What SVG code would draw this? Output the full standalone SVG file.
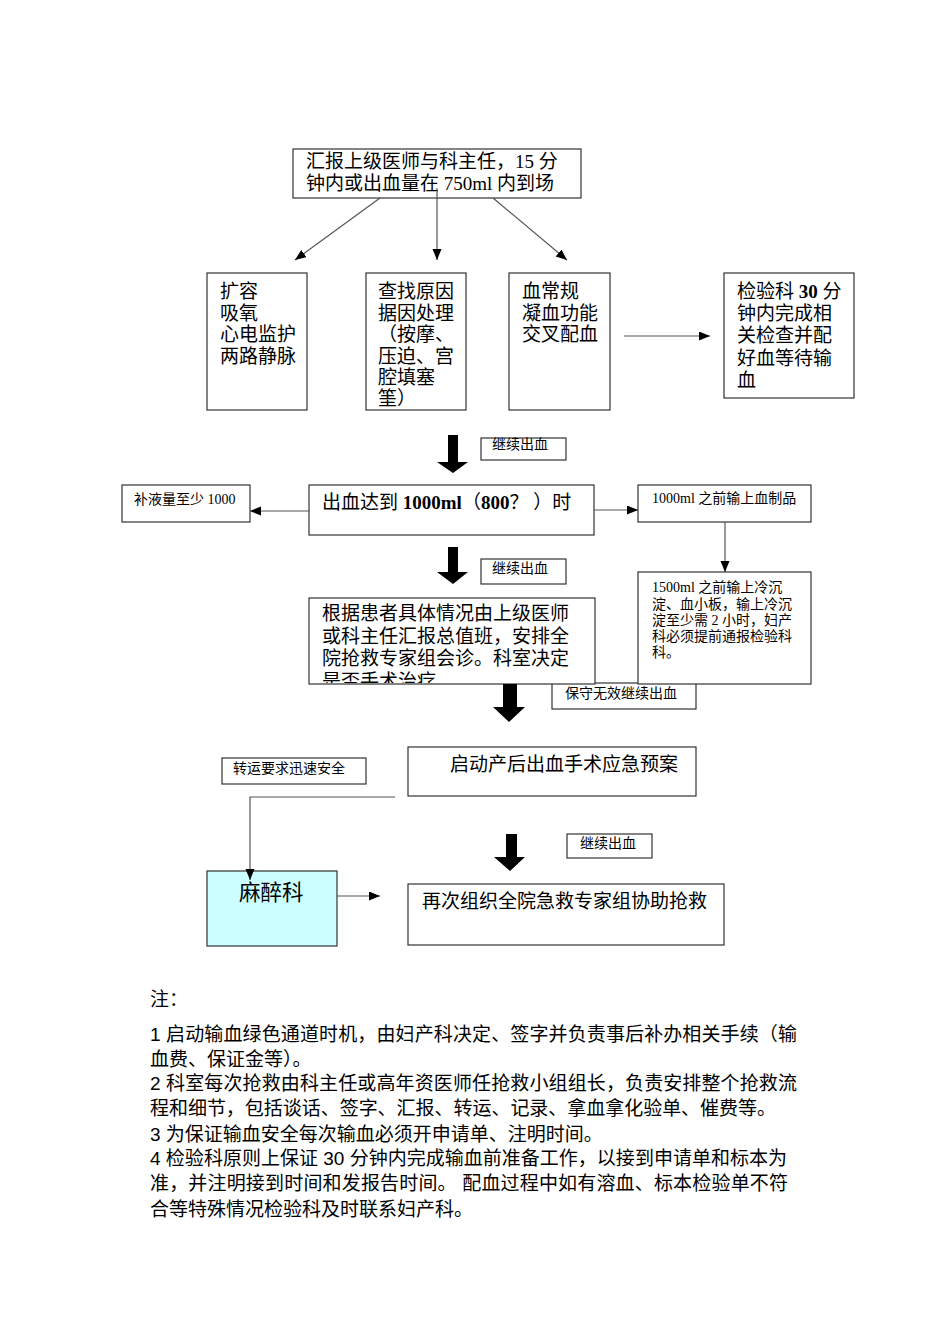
<svg xmlns="http://www.w3.org/2000/svg" width="950" height="1344" viewBox="0 0 950 1344">
<style>
.box{fill:#fff;stroke:#333;stroke-width:1.2}
.cyan{fill:#ccffff;stroke:#333;stroke-width:1.2}
.t{font-family:"Liberation Serif","Noto Sans CJK SC",serif;fill:#000}
.m{font-size:19px}
.l{font-size:19px}
.s{font-size:14px}
.b{font-weight:bold}
.n{font-family:"Liberation Sans","Noto Sans CJK SC",sans-serif;font-size:19px;fill:#000}
.ln{fill:none;stroke:#555;stroke-width:1.2}
.thick{fill:#000}
</style>
<defs>
<marker id="ah" markerUnits="userSpaceOnUse" markerWidth="12" markerHeight="10" refX="11" refY="4.5" orient="auto">
<path d="M0,0 L11,4.5 L0,9 z" fill="#000"/>
</marker>
<clipPath id="clipGen"><rect x="309" y="598" width="286" height="85"/></clipPath>
</defs>
<rect width="950" height="1344" fill="#fff"/>

<g id="n-report">
<rect class="box" x="293" y="149" width="288" height="49"/>
<text class="t m" x="306" y="168">汇报上级医师与科主任，15 分</text>
<text class="t m" x="306" y="190">钟内或出血量在 750ml 内到场</text>
</g>

<g id="n-expand">
<rect class="box" x="207" y="273" width="100" height="137"/>
<text class="t m" x="220" y="298">扩容</text>
<text class="t m" x="220" y="319.5">吸氧</text>
<text class="t m" x="220" y="341">心电监护</text>
<text class="t m" x="220" y="362.5">两路静脉</text>
</g>

<g id="n-cause">
<rect class="box" x="366" y="273" width="100" height="137"/>
<text class="t m" x="378" y="298">查找原因</text>
<text class="t m" x="378" y="319.5">据因处理</text>
<text class="t m" x="378" y="341">（按摩、</text>
<text class="t m" x="378" y="362.5">压迫、宫</text>
<text class="t m" x="378" y="384">腔填塞</text>
<text class="t m" x="378" y="405">筀）</text>
</g>

<g id="n-blood">
<rect class="box" x="509" y="273" width="101" height="137"/>
<text class="t m" x="522" y="298">血常规</text>
<text class="t m" x="522" y="319.5">凝血功能</text>
<text class="t m" x="522" y="341">交叉配血</text>
</g>

<g id="n-lab">
<rect class="box" x="724" y="273" width="130" height="125"/>
<text class="t m" x="737" y="297.5">检验科 <tspan class="b">30</tspan> 分</text>
<text class="t m" x="737" y="320">钟内完成相</text>
<text class="t m" x="737" y="342">关检查并配</text>
<text class="t m" x="737" y="364.5">好血等待输</text>
<text class="t m" x="737" y="387">血</text>
</g>

<g id="n-cont1">
<rect class="box" x="481" y="438" width="85" height="22"/>
<text class="t s" x="492" y="449">继续出血</text>
</g>

<g id="n-1000">
<rect class="box" x="309" y="485" width="285" height="50"/>
<text class="t m" x="322" y="509">出血达到 <tspan class="b">1000ml</tspan>（<tspan class="b">800</tspan>？ ）时</text>
</g>

<g id="n-fluid">
<rect class="box" x="122" y="485" width="128" height="37"/>
<text class="t s" x="134" y="504">补液量至少 1000</text>
</g>

<g id="n-products">
<rect class="box" x="638" y="485" width="173" height="37"/>
<text class="t s" x="652" y="503">1000ml 之前输上血制品</text>
</g>

<g id="n-cont2">
<rect class="box" x="481" y="559" width="85" height="25"/>
<text class="t s" x="492" y="573">继续出血</text>
</g>

<g id="n-conservative">
<rect class="box" x="552" y="683" width="144" height="26"/>
<text class="t s" x="565" y="698">保守无效继续出血</text>
</g>

<g id="n-1500">
<rect class="box" x="638" y="572" width="173" height="112"/>
<text class="t s" x="652" y="592">1500ml 之前输上冷沉</text>
<text class="t s" x="652" y="608.5">淀、血小板，输上冷沉</text>
<text class="t s" x="652" y="625">淀至少需 2 小时，妇产</text>
<text class="t s" x="652" y="641">科必须提前通报检验科</text>
<text class="t s" x="652" y="657">科。</text>
</g>

<g id="n-consult">
<rect class="box" x="309" y="598" width="286" height="86"/>
<g clip-path="url(#clipGen)">
<text class="t l" x="322" y="620">根据患者具体情况由上级医师</text>
<text class="t l" x="322" y="643">或科主任汇报总值班，安排全</text>
<text class="t l" x="322" y="665">院抢救专家组会诊。科室决定</text>
<text class="t l" x="322" y="688">是否手术治疗</text>
</g>
</g>

<g id="n-transport">
<rect class="box" x="222" y="758" width="144" height="26"/>
<text class="t s" x="233" y="773">转运要求迅速安全</text>
</g>

<g id="n-plan">
<rect class="box" x="408" y="747" width="288" height="49"/>
<text class="t l" x="450" y="771">启动产后出血手术应急预案</text>
</g>

<g id="n-cont3">
<rect class="box" x="567" y="834" width="85" height="24"/>
<text class="t s" x="580" y="848">继续出血</text>
</g>

<g id="n-anesth">
<rect class="cyan" x="207" y="871" width="130" height="75"/>
<text class="t" style="font-size:21.5px" x="239" y="900">麻醉科</text>
</g>

<g id="n-again">
<rect class="box" x="408" y="884" width="316" height="61"/>
<text class="t l" x="422" y="908">再次组织全院急救专家组协助抢救</text>
</g>

<g id="connectors">
<line class="ln" x1="380" y1="198" x2="295" y2="260" marker-end="url(#ah)"/>
<line class="ln" x1="437" y1="188" x2="437" y2="260" marker-end="url(#ah)"/>
<line class="ln" x1="493" y1="198" x2="567" y2="260" marker-end="url(#ah)"/>
<line class="ln" x1="624" y1="336" x2="710" y2="336" marker-end="url(#ah)"/>
<line class="ln" x1="309" y1="511" x2="250" y2="511" marker-end="url(#ah)"/>
<line class="ln" x1="594" y1="510" x2="638" y2="510" marker-end="url(#ah)"/>
<line class="ln" x1="725" y1="522" x2="725" y2="572" marker-end="url(#ah)"/>
<polyline class="ln" points="395,797 250,797 250,880" marker-end="url(#ah)"/>
<line class="ln" x1="337" y1="896" x2="380" y2="896" marker-end="url(#ah)"/>
<path class="thick" d="M448,435 H458 V462 H468 L453,473 L437,462 H448 Z"/>
<path class="thick" d="M448,547 H458 V572 H468 L453,584 L437,572 H448 Z"/>
<path class="thick" d="M503,684 H517 V707 H525 L509,722 L493,707 H503 Z"/>
<path class="thick" d="M506,834 H517 V857 H525 L510,871 L494,857 H506 Z"/>
</g>

<g id="notes">
<text class="n" x="150" y="1005.5">注：</text>
<text class="n" x="150" y="1041" textLength="647" lengthAdjust="spacing">1 启动输血绿色通道时机，由妇产科决定、签字并负责事后补办相关手续（输</text>
<text class="n" x="150" y="1066">血费、保证金等）。</text>
<text class="n" x="150" y="1090" textLength="647" lengthAdjust="spacing">2 科室每次抢救由科主任或高年资医师任抢救小组组长，负责安排整个抢救流</text>
<text class="n" x="150" y="1115" textLength="626" lengthAdjust="spacing">程和细节，包括谈话、签字、汇报、转运、记录、拿血拿化验单、催费等。</text>
<text class="n" x="150" y="1141">3 为保证输血安全每次输血必须开申请单、注明时间。</text>
<text class="n" x="150" y="1165" textLength="637" lengthAdjust="spacing">4 检验科原则上保证 30 分钟内完成输血前准备工作，以接到申请单和标本为</text>
<text class="n" x="150" y="1190" textLength="638" lengthAdjust="spacing">准，并注明接到时间和发报告时间。 配血过程中如有溶血、标本检验单不符</text>
<text class="n" x="150" y="1216">合等特殊情况检验科及时联系妇产科。</text>
</g>
</svg>
